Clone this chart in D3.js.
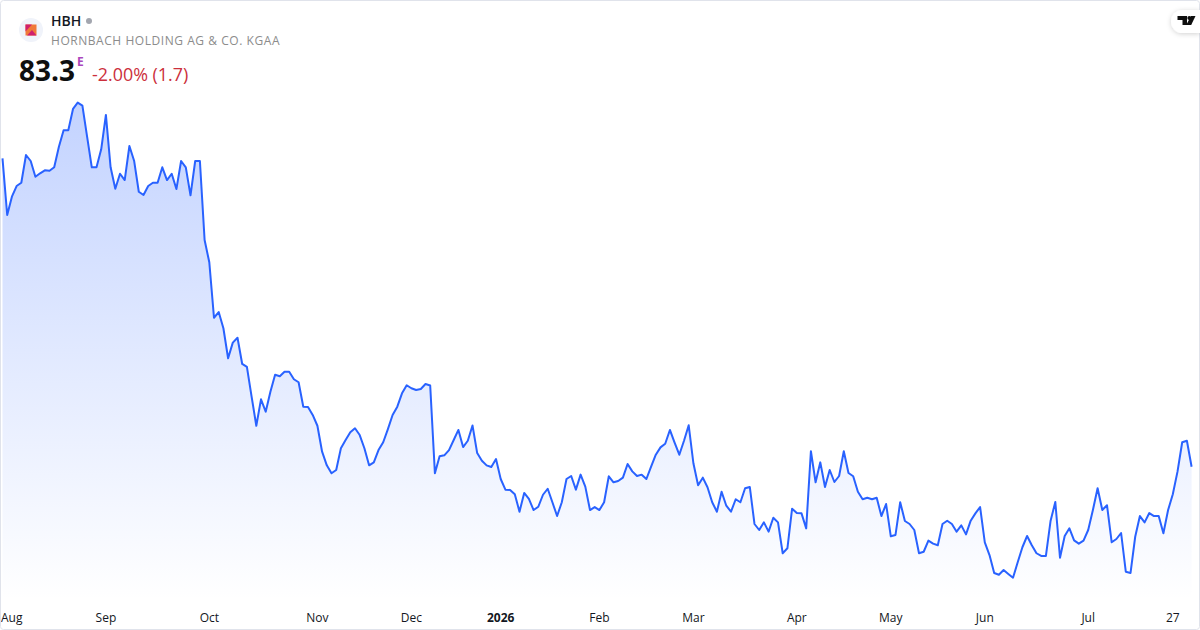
<!DOCTYPE html>
<html>
<head>
<meta charset="utf-8">
<script src="https://cdn.jsdelivr.net/npm/d3@7"></script>
<style>
  html, body { margin: 0; padding: 0; background: #fff; }
  text { font-family: "Open Sans", sans-serif; }
</style>
</head>
<body>
<div id="chart"></div>
<script>
// daily closes, 31 Jul 2025 to 31 Jul 2026
const closes = [
  103.86, 100.08, 101.30, 102.01, 102.23, 104.08, 103.68, 102.63, 102.86, 103.06,
  103.03, 103.26, 104.63, 105.73, 105.73, 107.15, 107.57, 107.37, 105.30, 103.26,
  103.26, 104.46, 106.75, 103.26, 101.83, 102.83, 102.41, 104.68, 103.70, 101.63,
  101.41, 102.01, 102.23, 102.23, 103.26, 102.41, 102.83, 101.81, 103.68, 103.26,
  101.39, 103.68, 103.68, 98.41, 96.93, 93.23, 93.61, 92.53, 90.53, 91.57,
  91.90, 90.15, 89.95, 87.97, 86.03, 87.79, 86.97, 88.30, 89.43, 89.33,
  89.63, 89.63, 89.13, 88.93, 87.30, 87.28, 86.75, 86.03, 84.30, 83.39,
  82.86, 83.08, 84.53, 85.08, 85.59, 85.86, 85.41, 84.53, 83.39, 83.59,
  84.41, 84.93, 85.81, 86.75, 87.30, 88.19, 88.73, 88.53, 88.41, 88.48,
  88.81, 88.71, 82.86, 83.99, 84.06, 84.41, 85.08, 85.75, 84.61, 85.03,
  86.05, 84.21, 83.70, 83.39, 83.28, 83.81, 82.48, 81.77, 81.75, 81.46,
  80.30, 81.55, 81.15, 80.41, 80.63, 81.43, 81.83, 80.93, 80.01, 80.93,
  82.48, 82.68, 81.77, 82.77, 81.97, 80.41, 80.61, 80.41, 80.93, 82.66,
  82.26, 82.35, 82.57, 83.48, 82.99, 82.68, 82.77, 82.48, 83.30, 84.10,
  84.59, 84.83, 85.75, 84.90, 84.10, 85.03, 86.06, 83.53, 82.06, 82.57,
  81.93, 80.93, 80.30, 81.63, 80.70, 80.30, 81.13, 80.93, 81.86, 81.95,
  79.48, 79.08, 79.59, 78.97, 79.90, 79.59, 77.53, 77.86, 80.50, 80.21,
  80.19, 79.19, 84.33, 82.26, 83.59, 81.95, 83.08, 82.28, 82.68, 84.33,
  82.88, 82.66, 81.63, 81.13, 81.23, 81.13, 81.23, 80.01, 80.81, 78.66,
  78.75, 80.93, 79.68, 79.48, 79.08, 77.53, 77.63, 78.37, 78.17, 78.06,
  79.48, 79.70, 79.48, 78.97, 79.39, 78.79, 79.70, 80.19, 80.61, 78.26,
  77.41, 76.21, 76.10, 76.41, 76.15, 75.90, 76.93, 77.93, 78.68, 78.06,
  77.53, 77.35, 77.35, 79.70, 80.95, 77.23, 78.68, 79.19, 78.39, 78.17,
  78.37, 79.08, 80.41, 81.86, 80.41, 80.73, 78.26, 78.48, 78.88, 76.30,
  76.21, 78.63, 80.01, 79.59, 80.21, 80.01, 80.01, 78.86, 80.41, 81.46,
  82.97, 84.93, 85.03, 83.30
];

const tickSessions = [0, 22, 44, 67, 87, 106, 127, 147, 169, 189, 209, 231, 249];
const tickLabels = ['Aug', 'Sep', 'Oct', 'Nov', 'Dec', '2026', 'Feb', 'Mar', 'Apr', 'May', 'Jun', 'Jul', '27'];

const WIDTH = 1200;
const HEIGHT = 630;
const PLOT = { LEFT: 2.5, RIGHT: 1191.6, TOP: 102.7, BOTTOM: 600 };
const LINE_COLOR = '#2962ff';

const svg = d3.select('#chart')
              .append('svg')
              .attr('width', WIDTH)
              .attr('height', HEIGHT)
              .style('display', 'block');

const x = d3.scaleLinear()
            .domain([0, closes.length - 1])
            .range([PLOT.LEFT, PLOT.RIGHT]);
// 15px per euro, last close 83.3 sits at y=466.7
const y = d3.scaleLinear()
            .domain([83.3, 107.57])
            .range([466.7, 466.7 - 24.27 * 15]);

const defs = svg.append('defs');
const fade = defs.append('linearGradient')
                 .attr('id', 'fade')
                 .attr('x1', 0).attr('x2', 0).attr('y1', 0).attr('y2', 1);
fade.append('stop').attr('offset', '0%').attr('stop-color', LINE_COLOR).attr('stop-opacity', 0.28);
fade.append('stop').attr('offset', '100%').attr('stop-color', LINE_COLOR).attr('stop-opacity', 0);

const area = d3.area()
               .x((d, i) => x(i))
               .y0(PLOT.BOTTOM)
               .y1(d => y(d));
const line = d3.line()
               .x((d, i) => x(i))
               .y(d => y(d));

svg.append('path')
   .datum(closes)
   .attr('d', area)
   .attr('fill', 'url(#fade)');
svg.append('path')
   .datum(closes)
   .attr('d', line)
   .attr('fill', 'none')
   .attr('stroke', LINE_COLOR)
   .attr('stroke-width', 2)
   .attr('stroke-linejoin', 'round');

// time axis, labels only
const axis = svg.append('g')
                .attr('transform', 'translate(-0.5, 612.5)')
                .call(d3.axisBottom(x)
                        .tickValues(tickSessions)
                        .tickFormat((d, i) => tickLabels[i])
                        .tickSize(0)
                        .tickPadding(0));
axis.select('.domain').remove();
axis.selectAll('text')
    .attr('y', 0)
    .attr('dy', '0.8em')
    .style('font-family', '"Open Sans", sans-serif')
    .style('font-size', '12px')
    .style('fill', '#131722')
    .style('font-weight', (d, i) => tickLabels[i] === '2026' ? 700 : 400);
axis.selectAll('.tick')
    .filter(d => d === 0)
    .select('text')
    .attr('text-anchor', 'start')
    .attr('x', -1.5);

// frame
svg.append('rect')
   .attr('x', 0.5).attr('y', 0.5)
   .attr('width', WIDTH - 1).attr('height', HEIGHT - 1)
   .attr('rx', 3)
   .attr('fill', 'none')
   .attr('stroke', '#e0e3eb');

// header
svg.append('circle').attr('cx', 31).attr('cy', 30).attr('r', 12).attr('fill', '#f0f3fa');
svg.append('rect').attr('x', 25.5).attr('y', 24.5).attr('width', 11).attr('height', 11).attr('fill', '#f0793a');
svg.append('path').attr('d', 'M25.5 24.5h6.5l-6.5 7z').attr('fill', '#cf1f6e');
svg.append('path').attr('d', 'M27 35.5l5-5.5 4.5 5.5z').attr('fill', '#cf1f6e');

svg.append('text').attr('x', 51).attr('y', 26)
   .style('font-size', '14px').style('font-weight', 600).style('fill', '#131722')
   .text('HBH');
svg.append('circle').attr('cx', 89).attr('cy', 21).attr('r', 3).attr('fill', '#a3a6af');
svg.append('text').attr('x', 51).attr('y', 45)
   .style('font-size', '12px').style('letter-spacing', '0.55px').style('fill', '#8c8c8c')
   .text('HORNBACH HOLDING AG & CO. KGAA');
svg.append('text').attr('x', 19).attr('y', 81)
   .style('font-size', '28px').style('font-weight', 700).style('fill', '#0f0f0f')
   .text('83.3');
svg.append('text').attr('x', 77).attr('y', 66)
   .style('font-size', '12px').style('font-weight', 700).style('fill', '#ab47bc')
   .text('E');
svg.append('text').attr('x', 92).attr('y', 81)
   .style('font-size', '17.9px').style('fill', '#cc2f3c')
   .text('-2.00% (1.7)');

// TradingView badge
const badge = defs.append('filter')
                  .attr('id', 'badgeShadow')
                  .attr('x', '-30%').attr('y', '-30%').attr('width', '160%').attr('height', '180%');
badge.append('feDropShadow')
     .attr('dx', 0).attr('dy', 1).attr('stdDeviation', 2.5)
     .attr('flood-color', '#000').attr('flood-opacity', 0.18);
svg.append('path')
   .attr('d', 'M1200 10h-17.5a11.5 11.5 0 0 0 0 23h17.5z')
   .attr('fill', '#fff')
   .attr('filter', 'url(#badgeShadow)');
svg.append('path')
   .attr('d', 'M1177.5 16h9.5v9h-4.5v-5h-5z')
   .attr('fill', '#0f0f0f');
svg.append('circle').attr('cx', 1189.3).attr('cy', 18).attr('r', 2).attr('fill', '#0f0f0f');
svg.append('path')
   .attr('d', 'M1191 16h4.5l-4.3 9h-5z')
   .attr('fill', '#0f0f0f');
</script>
</body>
</html>
